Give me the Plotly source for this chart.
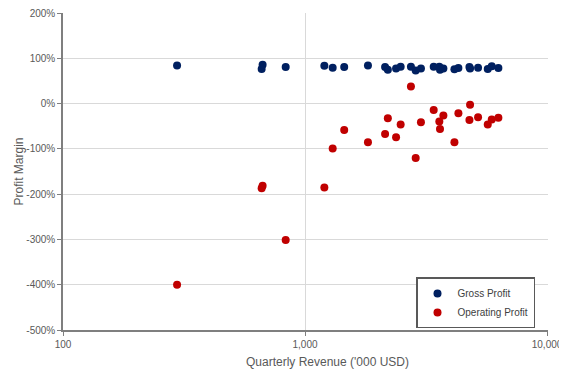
import plotly.graph_objects as go

revenue = [296, 662, 668, 832, 1202, 1301, 1452, 1820, 2142, 2199, 2378, 2484, 2739, 2866,
           3013, 3402, 3589, 3612, 3730, 4143, 4303, 4779, 4808, 5188, 5689, 5910, 6295]
gross_margin = [84.5, 77, 86, 81, 84, 79.5, 81, 84.5, 81, 75, 78, 81.7, 82, 73.6,
                78, 81.7, 81.7, 75, 78, 76, 79, 81, 78, 79.5, 76.7, 83, 79]
operating_margin = [-400, -187, -181, -301, -185, -99, -58, -85, -67, -32, -74, -46, 38, -120,
                    -41, -14, -39, -56, -26, -85, -21, -36, -2.5, -30, -46, -35, -31]

x_ticks = [100, 1000, 10000]
x_tick_labels = ["100", "1,000", "10,000"]
y_ticks = [200, 100, 0, -100, -200, -300, -400, -500]
y_tick_labels = ["200%", "100%", "0%", "-100%", "-200%", "-300%", "-400%", "-500%"]

FONT = "Liberation Sans"
# page body has an 8px margin, so the figure is sized for the visible area
W, H = 559, 362
L, R, T, B = 55, 19, 5, 40
PW = W - L - R
PH = H - T - B

fig = go.Figure()
fig.add_trace(go.Scatter(x=revenue, y=gross_margin, mode="markers", name="Gross Profit",
                         marker=dict(color="#002060", size=8)))
fig.add_trace(go.Scatter(x=revenue, y=operating_margin, mode="markers", name="Operating Profit",
                         marker=dict(color="#C00000", size=8)))

fig.update_layout(
    width=W, height=H,
    margin=dict(l=L, r=R, t=T, b=B, autoexpand=False),
    paper_bgcolor="white", plot_bgcolor="white",
    font=dict(family=FONT, size=10, color="#595959"),
    showlegend=True,
    legend=dict(x=(527 - L) / PW, y=0.005, xanchor="right", yanchor="bottom",
                bordercolor="#595959", borderwidth=1.5, bgcolor="white",
                font=dict(family=FONT, size=10, color="#404040"),
                tracegroupgap=0, itemwidth=30),
    annotations=[
        dict(text="Quarterly Revenue ('000 USD)", xref="paper", yref="paper",
             x=(319 - L) / PW, y=-(354 - (H - B)) / PH, xanchor="center", yanchor="middle",
             showarrow=False, font=dict(family=FONT, size=12, color="#595959")),
        dict(text="Profit Margin", xref="paper", yref="paper", textangle=-90,
             x=(1 - L) / PW, y=0.5, xanchor="left", yanchor="middle",
             showarrow=False, font=dict(family=FONT, size=12, color="#595959")),
    ],
)
fig.update_xaxes(
    type="log", range=[2, 4.004], automargin=False, ticklabeloverflow="allow",
    tickvals=x_ticks, ticktext=x_tick_labels,
    showgrid=True, gridcolor="#d9d9d9", gridwidth=1,
    showline=True, linecolor="#7f7f7f", linewidth=1.5,
    ticks="outside", ticklen=4, tickcolor="#7f7f7f",
    zeroline=False,
)
fig.update_yaxes(
    range=[-500, 200.5], automargin=False, ticklabeloverflow="allow",
    tickvals=y_ticks, ticktext=y_tick_labels,
    showgrid=True, gridcolor="#d9d9d9", gridwidth=1,
    showline=True, linecolor="#7f7f7f", linewidth=1.5,
    ticks="outside", ticklen=4, tickcolor="#7f7f7f",
    zeroline=False,
)

fig.write_html("out.html")
